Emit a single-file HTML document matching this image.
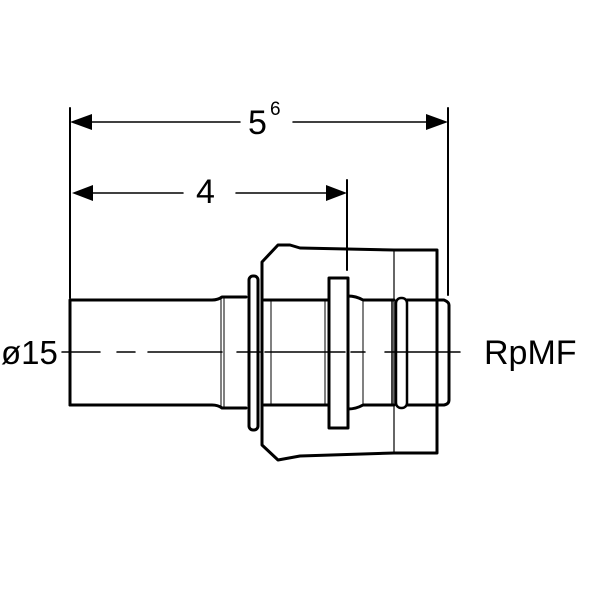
<!DOCTYPE html>
<html><head><style>body{margin:0;background:#fff}svg{display:block}</style></head><body>
<svg width="600" height="600" viewBox="0 0 600 600" xmlns="http://www.w3.org/2000/svg" font-family="Liberation Sans, sans-serif">
<g stroke="#000" fill="none" stroke-linecap="round" stroke-linejoin="round">
<line x1="70" y1="108" x2="70" y2="298" stroke-width="2"/>
<line x1="448" y1="108" x2="448" y2="295" stroke-width="2"/>
<line x1="347" y1="180" x2="347" y2="270" stroke-width="2"/>
<line x1="90" y1="122" x2="240" y2="122" stroke-width="1.5"/>
<line x1="293" y1="122" x2="430" y2="122" stroke-width="1.5"/>
<line x1="90" y1="193" x2="183" y2="193" stroke-width="1.5"/>
<line x1="236" y1="193" x2="330" y2="193" stroke-width="1.5"/>
<path d="M70,405 V300 H212 Q218,300 222,297 H246" stroke-width="3"/>
<path d="M70,405 H212 Q218,405 222,408 H246" stroke-width="3"/>
<line x1="221" y1="298" x2="221" y2="407" stroke-width="1"/>
<line x1="224" y1="298" x2="224" y2="407" stroke-width="1"/>
<rect x="249" y="276" width="9" height="154" rx="4" stroke-width="3"/>
<path d="M262,300 V262 L278,245 H290 L300,248 L394,250 H437 V453 H394 L300,456 L278,460 L262,445 V405" stroke-width="3"/>
<line x1="394" y1="250" x2="394" y2="453" stroke-width="1.2"/>
<line x1="262" y1="300" x2="262" y2="405" stroke-width="3"/>
<line x1="264" y1="300" x2="329" y2="300" stroke-width="3"/>
<line x1="264" y1="405" x2="329" y2="405" stroke-width="3"/>
<line x1="271" y1="300" x2="271" y2="405" stroke-width="1"/>
<line x1="325" y1="300" x2="325" y2="405" stroke-width="1"/>
<rect x="329" y="278" width="19" height="150" stroke-width="3"/>
<path d="M348,296 Q356,296 363,300 H394" stroke-width="3"/>
<path d="M348,409 Q356,409 363,405 H394" stroke-width="3"/>
<line x1="363" y1="300" x2="363" y2="405" stroke-width="1"/>
<rect x="396" y="298" width="11" height="110" rx="5" stroke-width="2.5"/>
<line x1="392" y1="300" x2="392" y2="405" stroke-width="1.5"/>
<path d="M407,300 H444 Q449,302 449,305 V400 Q449,404 444,405 H407" stroke-width="3"/>
<path d="M62,352 H100 M117,352 H135 M148,352 H222 M237,352 H260 M265,352 H345 M351,352 H365 M385,352 H460" stroke-width="1.5"/>
</g>
<g fill="#000">
<polygon points="70,122 92,114 92,130"/>
<polygon points="448,122 426,114 426,130"/>
<polygon points="72,193 93,185 93,201"/>
<polygon points="347,193 326,185 326,201"/>
</g>
<text x="248" y="134" font-size="34">5</text>
<text x="270" y="115" font-size="19">6</text>
<text x="196" y="203" font-size="34">4</text>
<text x="1" y="364" font-size="33">ø15</text>
<text x="484" y="364" font-size="34">RpMF</text>
</svg>
</body></html>
